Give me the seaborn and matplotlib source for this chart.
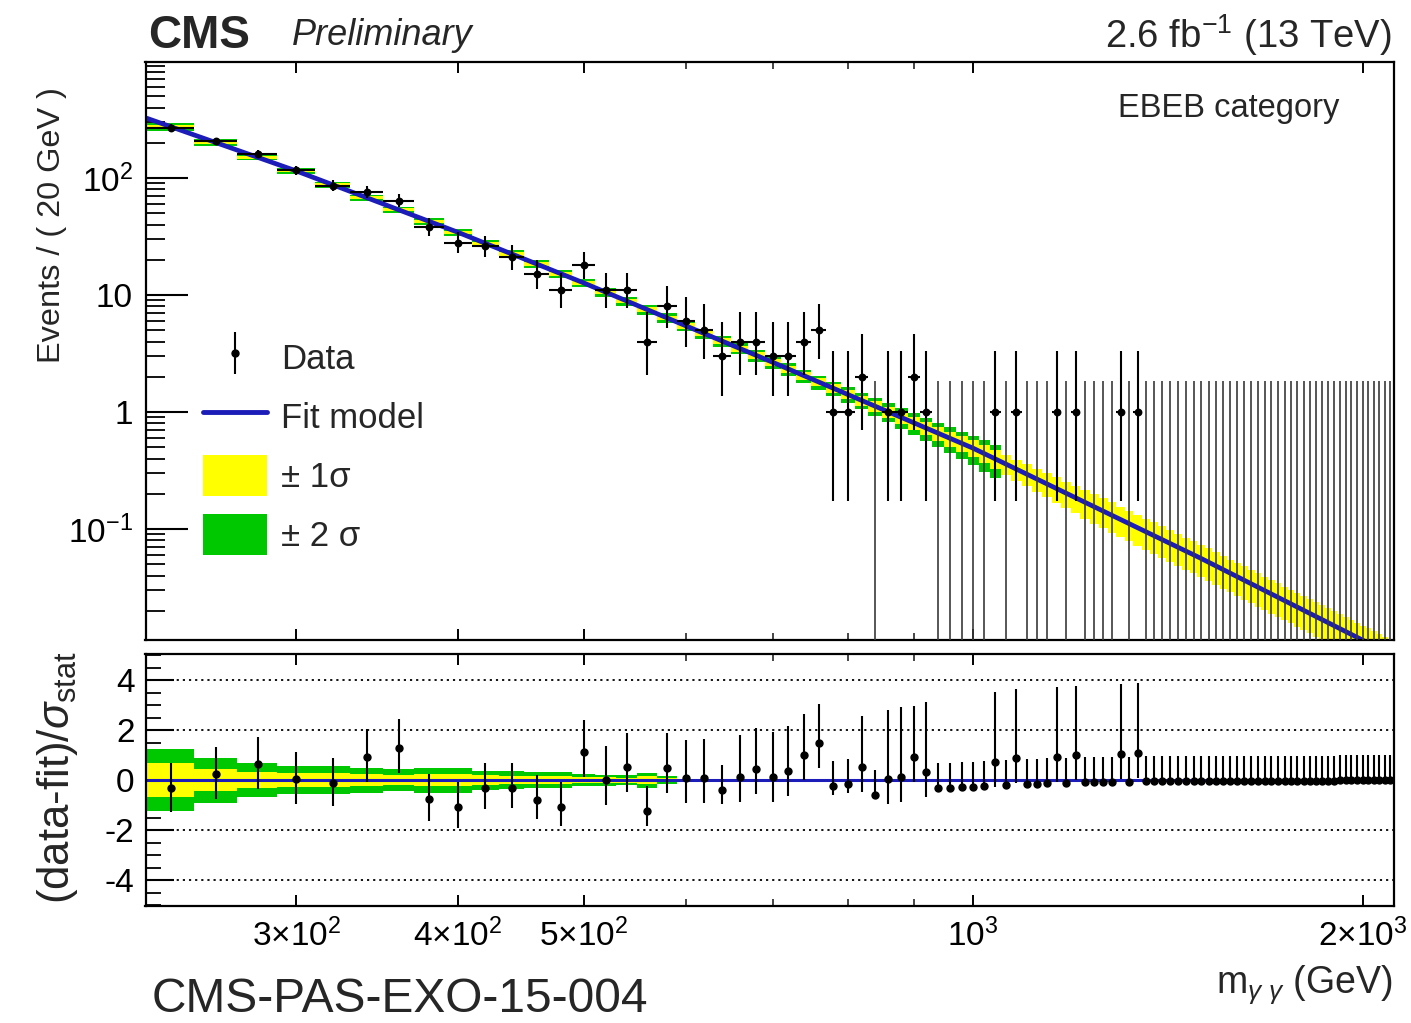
import math
import numpy as np
import matplotlib
matplotlib.use("Agg")
import matplotlib.pyplot as plt
import seaborn as sns
from matplotlib.ticker import FixedLocator, FixedFormatter, NullFormatter, LogLocator, MultipleLocator
from matplotlib.patches import Patch
from matplotlib.lines import Line2D
from matplotlib.legend_handler import HandlerErrorbar

# ------------------------------------------------------------------ data
mass_lo = 230.0          # GeV, first bin edge
bin_width = 20.0         # GeV

counts = [270, 205, 160, 116, 86, 76, 64, 38, 28, 26,
          21, 15, 11, 18, 11, 11, 4, 8, 6, 5,
          3, 4, 4, 3, 3, 4, 5, 1, 1, 2,
          0, 1, 1, 2, 1, 0, 0, 0, 0, 0,
          1, 0, 1, 0, 0, 0, 1, 0, 1, 0,
          0, 0, 0, 1, 0, 1, 0, 0, 0, 0,
          0, 0, 0, 0, 0, 0, 0, 0, 0, 0,
          0, 0, 0, 0, 0, 0, 0, 0, 0, 0,
          0, 0, 0, 0, 0, 0, 0, 0, 0, 0,
          0, 0, 0, 0]

# fit model read at every bin centre (events / 20 GeV)
fit_bins = [274.1, 200.6, 150.2, 114.8, 87.6, 67.9, 53.4, 42.5, 34.3, 27.6,
            22.4, 18.4, 15.2, 12.7, 10.59, 8.88, 7.50, 6.37, 5.44, 4.67,
            4.03, 3.49, 3.04, 2.66, 2.327, 2.044, 1.800, 1.591, 1.411, 1.255,
            1.119, 1.001, 0.897, 0.806, 0.726, 0.656, 0.593, 0.538, 0.490, 0.4406,
            0.397, 0.3585, 0.3245, 0.2942, 0.2671, 0.2430, 0.2214, 0.2020, 0.1846, 0.1690,
            0.1549, 0.1422, 0.1307, 0.1203, 0.1109, 0.1023, 0.0945, 0.0874, 0.0809, 0.0750,
            0.0696, 0.0647, 0.0601, 0.0560, 0.0520, 0.0483, 0.0449, 0.0418, 0.0390, 0.0364,
            0.0340, 0.0317, 0.0297, 0.0278, 0.0260, 0.0244, 0.0229, 0.0215, 0.0202, 0.0190,
            0.0178, 0.0168, 0.0158, 0.0149, 0.0140, 0.0133, 0.0125, 0.0118, 0.0112, 0.0106,
            0.0100, 0.0095, 0.0090, 0.0085]

# fit model curve (mass, value)
fit_curve_mass = [230, 300, 400, 500, 700, 1000, 1500, 2000, 2110]
fit_curve_vals = [323.6, 114.8, 34.3, 12.7, 2.66, 0.490, 0.056, 0.0112, 0.0083]

# relative half widths of the +-1 sigma (yellow) band, per bin
band1_rel = [0.038, 0.032, 0.028, 0.026, 0.028, 0.029, 0.030, 0.033, 0.035, 0.036,
             0.037, 0.038, 0.040, 0.041, 0.042, 0.044, 0.046, 0.048, 0.050, 0.052,
             0.055, 0.058, 0.062, 0.066, 0.070, 0.075, 0.080, 0.085, 0.090, 0.096,
             0.102, 0.108, 0.115, 0.122, 0.130, 0.138, 0.146, 0.155, 0.165, 0.175,
             0.185, 0.195, 0.205, 0.215, 0.225, 0.235, 0.245, 0.255, 0.265, 0.275,
             0.285, 0.290, 0.290, 0.290, 0.295, 0.295, 0.295, 0.300, 0.300, 0.300,
             0.300, 0.305, 0.305, 0.305, 0.310, 0.310, 0.310, 0.310, 0.315, 0.315,
             0.315, 0.315, 0.320, 0.320, 0.320, 0.320, 0.320, 0.325, 0.325, 0.325,
             0.325, 0.325, 0.330, 0.330, 0.330, 0.330, 0.330, 0.330, 0.335, 0.335,
             0.335, 0.335, 0.335, 0.335]
# relative half widths of the +-2 sigma (green) band, first bins only
band2_rel = [0.076, 0.064, 0.056, 0.052, 0.056, 0.058, 0.060, 0.066, 0.070, 0.072,
             0.074, 0.076, 0.080, 0.082, 0.084, 0.088, 0.092, 0.096, 0.100, 0.102,
             0.105, 0.108, 0.112, 0.116, 0.121, 0.128, 0.136, 0.145, 0.153, 0.163,
             0.173, 0.184, 0.196, 0.207, 0.221, 0.235, 0.248, 0.264, 0.280, 0.298, 0.315]

# (data-fit)/sigma_stat per bin
pulls = [-0.33, 0.24, 0.64, 0.03, -0.13, 0.91, 1.29, -0.77, -1.09, -0.33,
         -0.33, -0.80, -1.09, 1.13, 0.00, 0.53, -1.24, 0.47, 0.09, 0.09,
         -0.40, 0.13, 0.43, 0.13, 0.37, 1.00, 1.47, -0.24, -0.17, 0.53,
         -0.60, 0.03, 0.13, 0.91, 0.33, -0.33, -0.31, -0.27, -0.27, -0.24,
         0.73, -0.20, 0.87, -0.16, -0.15, -0.13, 0.93, -0.11, 1.00, -0.09,
         -0.08, -0.08, -0.07, 1.06, -0.06, 1.09, -0.05, -0.05, -0.05, -0.05,
         -0.04, -0.04, -0.04, -0.04, -0.04, -0.04, -0.03, -0.03, -0.03, -0.03,
         -0.03, -0.03, -0.03, -0.03, -0.02, -0.02, -0.02, -0.02, -0.02, -0.02,
         -0.02, -0.02, -0.02, -0.02, -0.01, -0.01, -0.01, -0.01, -0.01, -0.01,
         -0.01, -0.01, -0.01, -0.01]
# fit-uncertainty bands in the pull panel (half widths), first bins
pull_band2 = [1.25, 0.90, 0.67, 0.56, 0.55, 0.50, 0.43, 0.50, 0.50, 0.38,
              0.35, 0.33, 0.32, 0.25, 0.22, 0.20, 0.30, 0.15]
pull_band1 = [0.68, 0.45, 0.33, 0.28, 0.27, 0.25, 0.21, 0.25, 0.25, 0.19,
              0.17, 0.16, 0.16, 0.12, 0.11, 0.10, 0.15, 0.07]

x_major_ticks = [300, 400, 500, 1000, 2000]
x_major_labels = [r"$3{\times}10^{2}$", r"$4{\times}10^{2}$", r"$5{\times}10^{2}$",
                  r"$10^{3}$", r"$2{\times}10^{3}$"]
x_minor_ticks = [600, 700, 800, 900]
y_top_ticks = [0.1, 1, 10, 100]
y_top_labels = [r"$10^{-1}$", "1", "10", r"$10^{2}$"]
y_bot_ticks = [-4, -2, 0, 2, 4]
y_bot_labels = ["-4", "-2", "0", "2", "4"]

# ------------------------------------------------------------------ style
sns.set_theme(style="ticks")
plt.rcParams["font.family"] = ["Liberation Sans", "DejaVu Sans"]
plt.rcParams["mathtext.fontset"] = "custom"
plt.rcParams["mathtext.rm"] = "Liberation Sans"
plt.rcParams["mathtext.it"] = "Liberation Sans:italic"
plt.rcParams["mathtext.bf"] = "Liberation Sans:bold"
plt.rcParams["mathtext.sf"] = "Liberation Sans"

BLUE = "#1c1cb8"
YELLOW = "#ffff00"
GREEN = "#00c800"


def pois_cdf(k, lam):
    if k < 0:
        return 0.0
    if lam <= 0:
        return 1.0
    return sum(math.exp(i * math.log(lam) - lam - math.lgamma(i + 1)) for i in range(k + 1))


def garwood(n, cl=0.682689):
    a = (1.0 - cl) / 2.0

    def solve(f, target, lo, hi):
        for _ in range(70):
            mid = 0.5 * (lo + hi)
            if f(mid) > target:
                lo = mid
            else:
                hi = mid
        return 0.5 * (lo + hi)

    top = n + 10 * math.sqrt(n + 1) + 10
    up = solve(lambda l: pois_cdf(n, l), a, 0.0, top)
    low = 0.0 if n == 0 else solve(lambda l: pois_cdf(n - 1, l), 1 - a, 0.0, top)
    return n - low, up - n


n_arr = np.array(counts, dtype=float)
centers = mass_lo + bin_width * (np.arange(len(counts)) + 0.5)
fit_arr = np.array(fit_bins)
errs = np.array([garwood(int(n)) for n in counts])
err_lo, err_hi = errs[:, 0], errs[:, 1]

pull_arr = np.array(pulls)
pull_dn = np.ones_like(pull_arr)
pull_up = np.ones_like(pull_arr)
for i, n in enumerate(counts):
    if n == 0:
        pull_dn[i], pull_up[i] = 0.0, 1.0
    elif pull_arr[i] >= 0:
        pull_dn[i], pull_up[i] = 1.0, err_hi[i] / err_lo[i]
    else:
        pull_dn[i], pull_up[i] = err_lo[i] / err_hi[i], 1.0

# ------------------------------------------------------------------ figure
W, H = 1411, 1023
fig = plt.figure(figsize=(W / 100, H / 100), dpi=100)
fig.patch.set_facecolor("white")
left, right = 145.5 / W, 1394 / W
ax = fig.add_axes([left, 1 - 640 / H, right - left, (640 - 62) / H])
ax2 = fig.add_axes([left, 1 - 906 / H, right - left, (906 - 654) / H])

for a in (ax, ax2):
    a.set_xscale("log")
    a.set_xlim(229.4, 2114)
    a.set_facecolor("white")
    for s in a.spines.values():
        s.set_linewidth(1.6)
        s.set_color("black")
        s.set_visible(True)

ax.set_yscale("log")
ax.set_ylim(0.01125, 980)
ax2.set_ylim(-5.04, 5.04)

# ---- top panel bands
nb2 = len(band2_rel)
r2 = np.array(band2_rel)
ax.bar(centers[:nb2], fit_arr[:nb2] * 2 * r2, bottom=fit_arr[:nb2] * (1 - r2),
       width=bin_width, color=GREEN, linewidth=0, zorder=1)
r1 = np.array(band1_rel)
ax.bar(centers, fit_arr * 2 * r1, bottom=fit_arr * (1 - r1),
       width=bin_width, color=YELLOW, linewidth=0, zorder=1.5)

# ---- fit curve
sns.lineplot(x=fit_curve_mass, y=fit_curve_vals, ax=ax, color=BLUE, linewidth=3.4,
             estimator=None, sort=False, legend=False, zorder=2)

# ---- data
nz = n_arr > 0
z = ~nz
ax.errorbar(centers[nz], n_arr[nz], xerr=bin_width / 2,
            yerr=[err_lo[nz], err_hi[nz]], fmt="none", ecolor="black",
            elinewidth=1.5, capsize=0, zorder=3)
ax.vlines(centers[z], 1e-4, err_hi[z], color="#3a3a3a", linewidth=1.2, zorder=3)
sns.scatterplot(x=centers[nz], y=n_arr[nz], ax=ax, color="black", s=32,
                linewidth=0, zorder=4, legend=False)

# ---- pull panel
npb = len(pull_band2)
pb2 = np.array(pull_band2)
pb1 = np.array(pull_band1)
ax2.bar(centers[:npb], 2 * pb2, bottom=-pb2, width=bin_width, color=GREEN,
        linewidth=0, zorder=1)
ax2.bar(centers[:npb], 2 * pb1, bottom=-pb1, width=bin_width, color=YELLOW,
        linewidth=0, zorder=1.5)
for v in (-4, -2, 2, 4):
    ax2.axhline(v, color="black", linestyle=(0, (1.2, 2.2)), linewidth=1.3, zorder=1.2)
ax2.axhline(0, color="black", linewidth=1.2, zorder=2)
ax2.axhline(0, color=BLUE, linewidth=2.2, zorder=2.1)
data_handle = ax2.errorbar(centers, pull_arr, yerr=[pull_dn, pull_up], fmt="o",
                           color="black", markersize=5.0, ecolor="black",
                           elinewidth=1.5, capsize=0, zorder=4)

# ---- ticks
for a in (ax, ax2):
    a.xaxis.set_major_locator(FixedLocator(x_major_ticks))
    a.xaxis.set_minor_locator(FixedLocator(x_minor_ticks))
    a.xaxis.set_minor_formatter(NullFormatter())
    a.tick_params(axis="x", which="major", direction="in", length=8, width=1.4,
                  top=True, bottom=True, colors="black")
    a.tick_params(axis="x", which="minor", direction="in", length=5, width=1.2,
                  top=True, bottom=True)
    a.tick_params(axis="y", which="both", direction="in", left=True, right=False,
                  colors="black")

ax.xaxis.set_major_formatter(NullFormatter())
ax.tick_params(axis="x", labelbottom=False)
ax2.xaxis.set_major_formatter(FixedFormatter(x_major_labels))
ax2.tick_params(axis="x", which="major", labelsize=24, pad=9)

ax.yaxis.set_major_locator(FixedLocator(y_top_ticks))
ax.yaxis.set_major_formatter(FixedFormatter(y_top_labels))
ax.yaxis.set_minor_locator(LogLocator(base=10, subs=np.arange(2, 10), numticks=20))
ax.yaxis.set_minor_formatter(NullFormatter())
ax.tick_params(axis="y", which="major", length=30, width=1.5, labelsize=24, pad=9)
ax.tick_params(axis="y", which="minor", length=14, width=1.3)

ax2.yaxis.set_major_locator(FixedLocator(y_bot_ticks))
ax2.yaxis.set_major_formatter(FixedFormatter(y_bot_labels))
ax2.yaxis.set_minor_locator(MultipleLocator(0.5))
ax2.tick_params(axis="y", which="major", length=20, width=1.5, labelsize=24, pad=8)
ax2.tick_params(axis="y", which="minor", length=11, width=1.3)

ax.set_xlabel("")
ax.set_ylabel("")
ax2.set_xlabel("")
ax2.set_ylabel("")

# ---- labels and texts
fig.text(52 / W, 1 - 225 / H, "Events / ( 20 GeV )", rotation=90, ha="center",
         va="center", fontsize=23.4)
fig.text(57 / W, 1 - 778 / H, r"(data-fit)/$\sigma_{\mathrm{stat}}$", rotation=90,
         ha="center", va="center", fontsize=31.5)
fig.text(1392 / W, 1 - 993 / H, r"m$_{\gamma\ \gamma}$ (GeV)", ha="right",
         va="baseline", fontsize=27)
fig.text(148 / W, 1 - 48 / H, "CMS", fontsize=33, fontweight="bold", ha="left",
         va="baseline")
fig.text(292 / W, 1 - 45 / H, "Preliminary", fontsize=26, fontstyle="italic",
         ha="left", va="baseline")
fig.text(1392 / W, 1 - 48 / H, r"2.6 fb$^{-1}$ (13 TeV)", fontsize=27.5, ha="right",
         va="baseline")
fig.text(1118 / W, 1 - 117 / H, "EBEB category", fontsize=23.5, ha="left",
         va="baseline")
fig.text(152 / W, 1 - 1012 / H, "CMS-PAS-EXO-15-004", fontsize=34.5, ha="left",
         va="baseline")

# ---- legend
handles = [data_handle,
           Line2D([], [], color=BLUE, linewidth=3.5),
           Patch(facecolor=YELLOW, edgecolor="none"),
           Patch(facecolor=GREEN, edgecolor="none")]
labels = ["Data", "Fit model", "\u00b1 1\u03c3", "\u00b1 2 \u03c3"]
fig.legend(handles, labels, loc="upper left",
           bbox_to_anchor=(203 / W, 1 - 337 / H), bbox_transform=fig.transFigure,
           frameon=False, fontsize=25, handlelength=1.85, handleheight=1.45,
           labelspacing=0.51, handletextpad=0.4, borderpad=0, borderaxespad=0,
           handler_map={type(data_handle): HandlerErrorbar(xerr_size=0.0, yerr_size=0.6)})

fig.savefig("out.png", dpi=100, facecolor="white")
